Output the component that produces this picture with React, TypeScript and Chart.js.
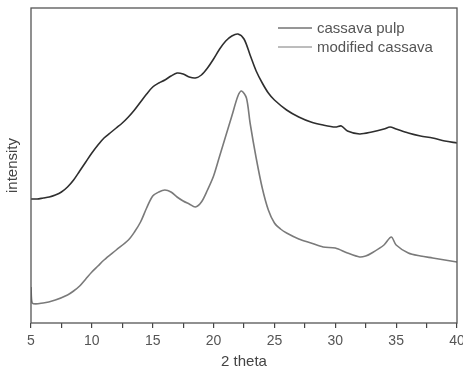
import React, { useEffect, useRef } from "react";
import { Chart, registerables } from "chart.js";

Chart.register(...registerables);

const seriesNames = ["cassava pulp", "modified cassava"];
const xTickLabels = [5, 10, 15, 20, 25, 30, 35, 40];

const pulpTheta = [5, 5.5, 6, 6.5, 7, 7.5, 8, 8.5, 9, 9.5, 10, 10.5, 11, 11.5, 12, 12.5, 13, 13.5, 14, 14.5, 15, 15.5, 16, 16.5, 17, 17.5, 18, 18.5, 19, 19.5, 20, 20.5, 21, 21.5, 22, 22.5, 23, 23.5, 24, 24.5, 25, 26, 27, 28, 29, 30, 30.5, 31, 32, 33, 34, 34.5, 35, 36, 37, 38, 39, 40];
const pulpIntensity = [124, 124, 125, 126, 128, 131, 136, 143, 152, 161, 170, 178, 185, 190, 195, 200, 206, 213, 221, 229, 236, 240, 243, 247, 250, 249, 246, 245, 248, 255, 264, 274, 282, 287, 289, 284, 268, 252, 240, 230, 223, 213, 206, 201, 198, 196, 197, 192, 189, 191, 194, 196, 194, 190, 187, 185, 182, 180];

const modTheta = [5, 5.1, 6, 7, 8, 8.5, 9, 9.5, 10, 10.5, 11, 12, 13, 13.5, 14, 14.5, 15, 15.5, 16, 16.5, 17, 17.5, 18, 18.5, 19, 19.5, 20, 20.5, 21, 21.5, 22, 22.3, 22.7, 23, 23.5, 24, 24.5, 25, 25.5, 26, 27, 28, 29, 30, 31, 32, 32.5, 33, 34, 34.6, 35, 36, 37, 38, 39, 40];
const modIntensity = [36, 20, 20, 23, 28, 32, 37, 44, 51, 57, 63, 73, 83, 91, 101, 115, 127, 131, 133, 131, 126, 122, 119, 116, 121, 133, 147, 167, 187, 207, 227, 232, 225, 200, 165, 135, 113, 100, 94, 90, 84, 80, 76, 75, 70, 66, 67, 70, 78, 86, 78, 70, 67, 65, 63, 61];

const lineColors = ["#2e2e2e", "#7a7a7a"];
const FONT = "'Liberation Sans', Arial, sans-serif";

const framePlugin = {
  id: "frameAndLegend",
  afterDraw(chart: any) {
    const { ctx, chartArea } = chart;
    const { left, right, top, bottom } = chartArea;
    ctx.save();
    ctx.strokeStyle = "#555";
    ctx.lineWidth = 1.3;
    ctx.strokeRect(left, top, right - left, bottom - top);
    // legend
    const lx0 = right - 179;
    const lx1 = right - 145;
    const rows = [28, 47];
    ctx.font = `15px ${FONT}`;
    ctx.textBaseline = "middle";
    seriesNames.forEach((name, i) => {
      ctx.strokeStyle = lineColors[i];
      ctx.lineWidth = 1;
      ctx.beginPath();
      ctx.moveTo(lx0, rows[i]);
      ctx.lineTo(lx1, rows[i]);
      ctx.stroke();
      ctx.fillStyle = "#555";
      ctx.fillText(name, lx1 + 5, rows[i] + 1);
    });
    ctx.restore();
  },
};

export default function App() {
  const ref = useRef<HTMLCanvasElement>(null);
  useEffect(() => {
    if (!ref.current) return;
    const chart = new Chart(ref.current, {
      type: "line",
      data: {
        datasets: [
          {
            label: seriesNames[0],
            data: pulpTheta.map((x, i) => ({ x, y: pulpIntensity[i] })),
            borderColor: lineColors[0],
            borderWidth: 1.6,
            pointRadius: 0,
            tension: 0.3,
          },
          {
            label: seriesNames[1],
            data: modTheta.map((x, i) => ({ x, y: modIntensity[i] })),
            borderColor: lineColors[1],
            borderWidth: 1.6,
            pointRadius: 0,
            tension: 0.3,
          },
        ],
      },
      options: {
        animation: false,
        responsive: false,
        layout: { padding: { top: 8, right: 6, left: 0, bottom: 0 } },
        plugins: { legend: { display: false }, tooltip: { enabled: false } },
        scales: {
          x: {
            type: "linear",
            min: 5,
            max: 40,
            border: { display: false },
            grid: { drawOnChartArea: false, tickLength: 5, color: "#444", lineWidth: 1.2 },
            ticks: {
              stepSize: 2.5,
              autoSkip: false,
              maxRotation: 0,
              padding: 5,
              color: "#555",
              font: { family: FONT, size: 14 },
              callback: (v: any) => (xTickLabels.includes(Number(v)) ? String(v) : ""),
            },
            title: {
              display: true,
              text: "2 theta",
              color: "#444",
              font: { family: FONT, size: 15 },
              padding: { top: 0, bottom: 2 },
            },
            afterFit: (s: any) => {
              s.height = 50;
              s.paddingRight = 0;
              s.paddingLeft = 0;
            },
          },
          y: {
            min: 0,
            max: 315,
            border: { display: false },
            grid: { display: false },
            ticks: { display: false },
            title: {
              display: true,
              text: "intensity",
              color: "#444",
              font: { family: FONT, size: 15 },
              padding: { top: 4, bottom: 4 },
            },
            afterFit: (s: any) => {
              s.width = 31;
            },
          },
        },
      },
      plugins: [framePlugin],
    });
    return () => chart.destroy();
  }, []);
  return (
    <div style={{ position: "fixed", left: 0, top: 0, width: 463, height: 373, background: "#fff" }}>
      <canvas ref={ref} width={463} height={373} style={{ width: 463, height: 373 }} />
    </div>
  );
}
